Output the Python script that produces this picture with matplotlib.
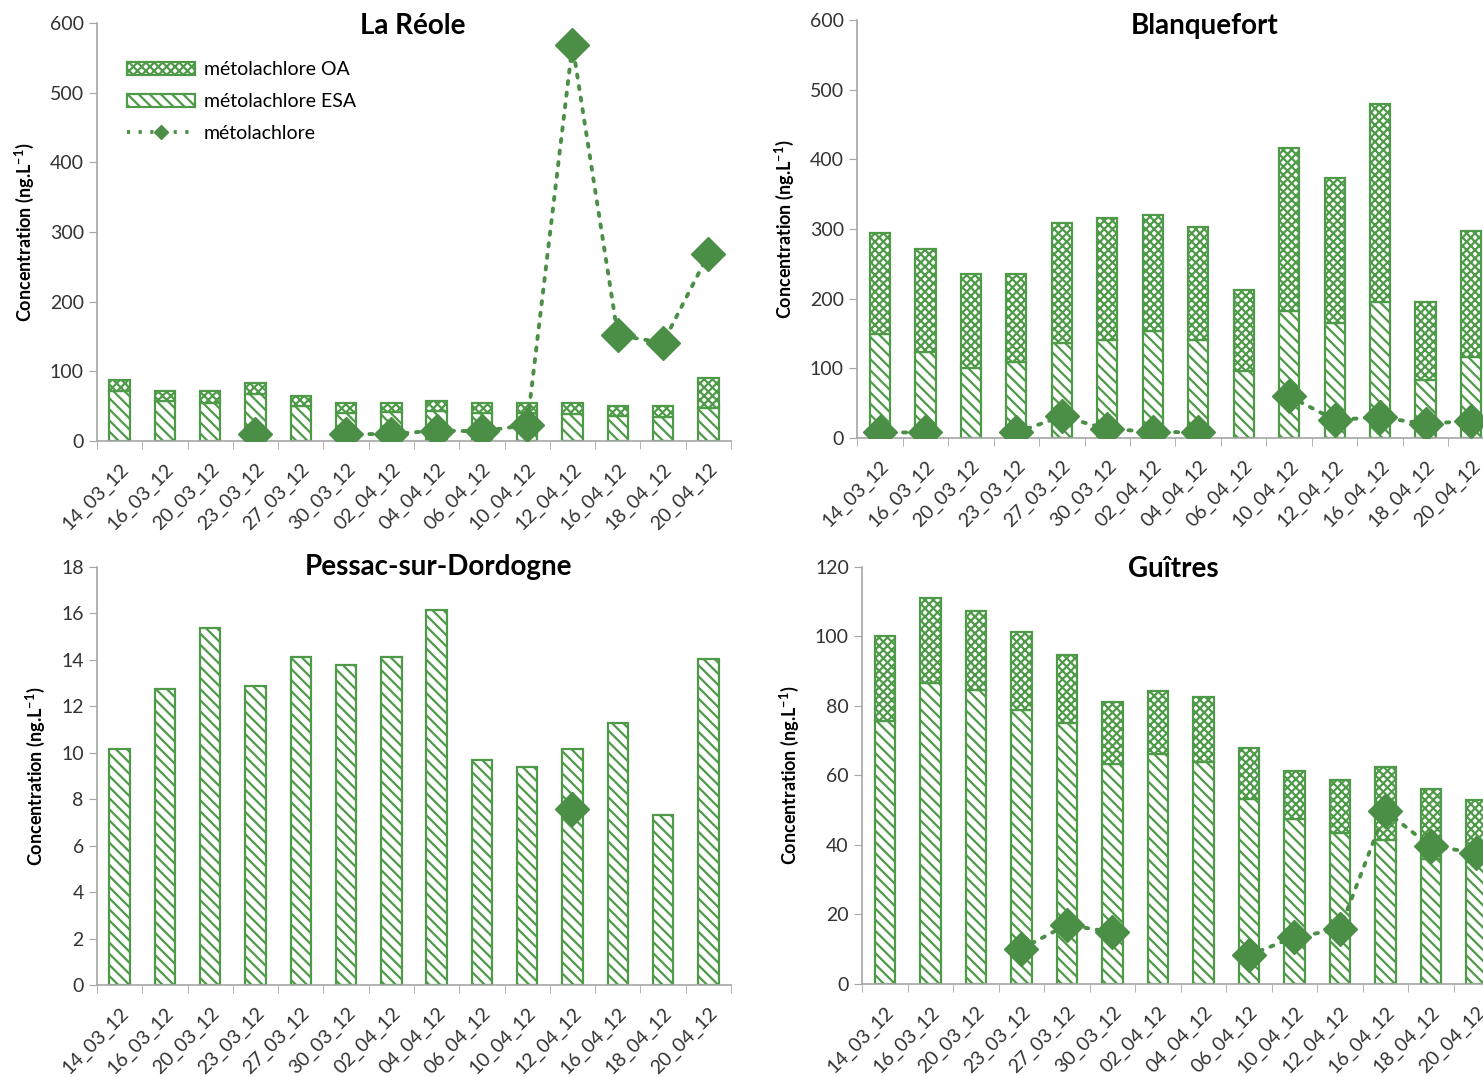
import numpy as np
import matplotlib
matplotlib.use('Agg')
import matplotlib.pyplot as plt
from matplotlib.patches import Patch
from matplotlib.lines import Line2D

nan = np.nan

dates = ['14_03_12', '16_03_12', '20_03_12', '23_03_12', '27_03_12', '30_03_12', '02_04_12',
         '04_04_12', '06_04_12', '10_04_12', '12_04_12', '16_04_12', '18_04_12', '20_04_12']

# La Réole
reole_esa = [72, 58, 55, 68, 51, 40, 41, 43, 40, 40, 39, 36, 35, 48]
reole_oa = [16, 14, 17, 15, 13, 14, 13, 14, 14, 14, 15, 15, 16, 42]
reole_meto = [nan, nan, nan, 10, nan, 10, 10, 15, 14, 23, 569, 152, 141, 268]

# Blanquefort
blanq_esa = [150, 124, 100, 109, 136, 140, 153, 140, 96, 182, 165, 195, 83, 116]
blanq_oa = [145, 148, 136, 127, 172, 176, 167, 163, 117, 234, 208, 284, 112, 181]
blanq_meto = [8, 8, nan, 8, 31, 13, 9, 8, nan, 60, 26, 30, 20, 25]

# Pessac-sur-Dordogne
pessac_esa = [10.16, 12.75, 15.39, 12.86, 14.12, 13.76, 14.12, 16.17, 9.7, 9.37, 10.16, 11.27, 7.33, 14.02]
pessac_oa = [0] * 14
pessac_meto = [nan, nan, nan, nan, nan, nan, nan, nan, nan, nan, 7.57, nan, nan, nan]

# Guîtres
guitres_esa = [75.8, 86.7, 84.7, 78.9, 75.1, 63.4, 66.3, 64, 53.2, 47.6, 43.5, 41.3, 35.9, 35]
guitres_oa = [24.4, 24.5, 22.6, 22.5, 19.7, 17.6, 17.9, 18.5, 14.8, 13.6, 15.1, 21.1, 20.1, 18]
guitres_meto = [nan, nan, nan, 10.1, 17, 14.9, nan, nan, 8.2, 13.5, 15.7, 49.8, 39.6, 37.8]

green = '#4e9a48'
marker_green = '#4a8f45'
grey = '#a6a6a6'
esa_hatch = '\\\\\\'
oa_hatch = 'xxxx'

plt.rcParams['font.family'] = ['Lato', 'DejaVu Sans']
plt.rcParams['mathtext.default'] = 'regular'
plt.rcParams['hatch.linewidth'] = 1.6

fig = plt.figure(figsize=(14.83, 10.77), dpi=100)


def drawPanel(rect, title, titlePos, esa, oa, meto, ymax, ystep, legend=False):
    ax = fig.add_axes(rect)
    x = np.arange(len(dates))
    w = 0.45
    ax.bar(x, esa, w, color='white', edgecolor=green, hatch=esa_hatch, linewidth=1.6, zorder=2)
    if max(oa) > 0:
        ax.bar(x, oa, w, bottom=esa, color='white', edgecolor=green, hatch=oa_hatch, linewidth=1.6, zorder=2)
    ax.plot(x, meto, linestyle=(0, (0.8, 2.2)), dash_capstyle='round', linewidth=2.8, color=marker_green,
            marker='D', markersize=17, markeredgecolor=marker_green, zorder=3)

    ax.set_xlim(-0.5, len(dates) - 0.5)
    ax.set_ylim(0, ymax)
    ax.set_yticks(np.arange(0, ymax + ystep / 2, ystep))
    ax.set_xticks(x)
    ax.set_xticklabels(dates, rotation=45, ha='right', rotation_mode='anchor')
    ax.set_xticks(np.arange(-0.5, len(dates), 1), minor=True)
    ax.tick_params(axis='x', which='major', length=0, pad=14, labelsize=14, labelcolor='#333333')
    ax.tick_params(axis='x', which='minor', length=6, color=grey, direction='out')
    ax.tick_params(axis='y', length=6, color=grey, labelsize=14, labelcolor='#333333')

    for s in ['top', 'right']:
        ax.spines[s].set_visible(False)
    for s in ['left', 'bottom']:
        ax.spines[s].set_color(grey)
        ax.spines[s].set_linewidth(1.2)

    ax.text(titlePos[0], titlePos[1], title, transform=ax.transAxes, ha='center', va='center',
            fontsize=20, fontweight='bold')
    ax.set_ylabel('Concentration (ng.L$^{-1}$)', fontsize=13, fontweight='bold', labelpad=10)

    if legend:
        handles = [
            Patch(facecolor='white', edgecolor=green, hatch=oa_hatch, linewidth=1.6, label='métolachlore OA'),
            Patch(facecolor='white', edgecolor=green, hatch=esa_hatch, linewidth=1.6, label='métolachlore ESA'),
            Line2D([0], [0], linestyle=(0, (0.8, 2.2)), linewidth=2.8, color=marker_green, marker='D',
                   markersize=7, label='métolachlore'),
        ]
        ax.legend(handles=handles, loc='upper left', bbox_to_anchor=(0.02, 0.95), frameon=False,
                  fontsize=14, handlelength=3.5, handleheight=0.65, handletextpad=0.45, labelspacing=0.75)
    return ax


drawPanel([0.0654, 0.5905, 0.4275, 0.3881], 'La Réole', (0.498, 0.993),
          reole_esa, reole_oa, reole_meto, 600, 100, legend=True)
drawPanel([0.5779, 0.5933, 0.4295, 0.3881], 'Blanquefort', (0.546, 0.986),
          blanq_esa, blanq_oa, blanq_meto, 600, 100)
drawPanel([0.0654, 0.0854, 0.4275, 0.3881], 'Pessac-sur-Dordogne', (0.538, 1.0),
          pessac_esa, pessac_oa, pessac_meto, 18, 2)
drawPanel([0.5813, 0.0864, 0.4295, 0.3872], 'Guîtres', (0.488, 0.995),
          guitres_esa, guitres_oa, guitres_meto, 120, 20)

plt.savefig('out.png', dpi=100)
